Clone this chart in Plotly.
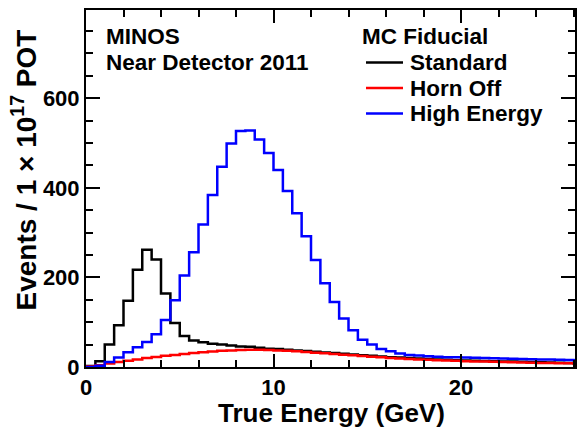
import numpy as np
import plotly.graph_objects as go

# ---- data ----
bin_width = 0.5  # GeV
n_bins = 54
bin_edges = np.arange(n_bins + 1) * bin_width  # 0 .. 27 GeV

standard = [2, 13, 50, 93, 148, 217, 262, 240, 164, 98, 69, 59, 55,
            52, 50, 48, 46, 45, 43, 41, 40, 38.5, 37, 35.5, 34, 32.5,
            31, 29.5, 28, 26.5, 25, 23.5, 22, 21, 20, 19, 18, 17, 16, 15,
            14.5, 14, 13.5, 13, 12.5, 12, 11.5, 11, 10.5, 10, 9.5, 9, 8.5, 8]

horn_off = [1, 4, 8, 11, 14, 17, 20, 22.5, 25, 27, 29, 31, 33, 34.5, 36, 37,
            38, 38.5, 38.5, 38, 37, 36, 35, 33.5, 32, 30.5, 29, 27.5, 26,
            24.5, 23, 21.5, 20, 19, 18, 17, 16, 15, 14.5, 14, 13, 12.5, 12,
            11.5, 11, 10.5, 10, 9.5, 9, 8.7, 8.4, 8.1, 7.8, 7.5]

high_energy = [0, 3, 11, 21, 33, 44, 56, 73, 105, 149, 204, 256, 318, 384,
               447, 499, 527, 528, 508, 478, 440, 393, 343, 292, 239, 187,
               145, 108, 82, 61, 50, 40, 35, 30, 27, 25.5, 24, 23, 22, 21.5,
               21, 20.5, 20, 19.5, 19, 18.5, 18, 17.5, 17, 16.5, 16, 15.5,
               15, 14.5]

series = [("Standard", standard, "black"),
          ("Horn Off", horn_off, "red"),
          ("High Energy", high_energy, "blue")]

legend_title = "MC Fiducial"
label_lines = ["MINOS", "Near Detector 2011"]
x_title = "True Energy (GeV)"
y_title = "Events / 1 \u00d7 10<sup>17</sup> POT"
x_ticks = [0, 10, 20]
y_ticks = [0, 200, 400, 600]

FONT = "Liberation Sans"
W, H = 577, 429
L, R, T, B = 86, 2, 10, 62
TXT = 22.5

fig = go.Figure()
for name, vals, col in series:
    xs = list(bin_edges)
    ys = list(vals) + [vals[-1]]
    fig.add_trace(go.Scatter(x=xs, y=ys, mode="lines", name=name, showlegend=False,
                             line=dict(color=col, width=2.5, shape="hv")))

axis_common = dict(showline=True, linecolor="black", linewidth=2, mirror="allticks",
                   ticks="inside", tickcolor="black", tickwidth=1.5,
                   showgrid=False, zeroline=False, automargin=False,
                   tickfont=dict(family=FONT, size=22, color="black", weight="bold"))

fig.update_xaxes(range=[0, 26.08], tickvals=x_ticks, ticklen=13,
                 minor=dict(dtick=2, ticks="inside", ticklen=7, tickcolor="black", tickwidth=1.5),
                 **axis_common)
fig.update_yaxes(range=[0, 797], tickvals=y_ticks, ticklen=14,
                 minor=dict(dtick=50, ticks="inside", ticklen=7, tickcolor="black", tickwidth=1.5),
                 **axis_common)

pw, ph = W - L - R, H - T - B
def px(x):
    return (x - L) / pw
def py(y):
    return (H - B - y) / ph

bold = dict(family=FONT, size=TXT, color="black", weight="bold")
Y0, DY = 37, 25.5

# top-left label
for i, t in enumerate(label_lines):
    fig.add_annotation(text=t, xref="paper", yref="paper", x=px(104), y=py(Y0 + DY * i),
                       xanchor="left", yanchor="middle", showarrow=False, font=bold)

# manual legend
fig.add_annotation(text=legend_title, xref="paper", yref="paper", x=px(360), y=py(Y0),
                   xanchor="left", yanchor="middle", showarrow=False, font=bold)
for i, (name, vals, col) in enumerate(series):
    yc = Y0 + DY * (i + 1)
    fig.add_shape(type="line", xref="paper", yref="paper", x0=px(366), x1=px(403),
                  y0=py(yc), y1=py(yc), line=dict(color=col, width=2.5))
    fig.add_annotation(text=name, xref="paper", yref="paper", x=px(408), y=py(yc),
                       xanchor="left", yanchor="middle", showarrow=False, font=bold)

fig.add_annotation(text=x_title, xref="paper", yref="paper",
                   x=px(331), y=py(413), xanchor="center", yanchor="middle", showarrow=False,
                   font=dict(family=FONT, size=26, color="black", weight="bold"))
fig.add_annotation(text=y_title, xref="paper", yref="paper",
                   x=px(24), y=py(28), xanchor="center", yanchor="top", showarrow=False,
                   textangle=-90,
                   font=dict(family=FONT, size=28, color="black", weight="bold"))

fig.update_layout(
    width=W, height=H, margin=dict(l=L, r=R, t=T, b=B),
    plot_bgcolor="white", paper_bgcolor="white", showlegend=False,
)

fig.write_html("out.html", config={"displayModeBar": False},
               post_script="document.body.style.margin='0';document.body.style.padding='0';")
